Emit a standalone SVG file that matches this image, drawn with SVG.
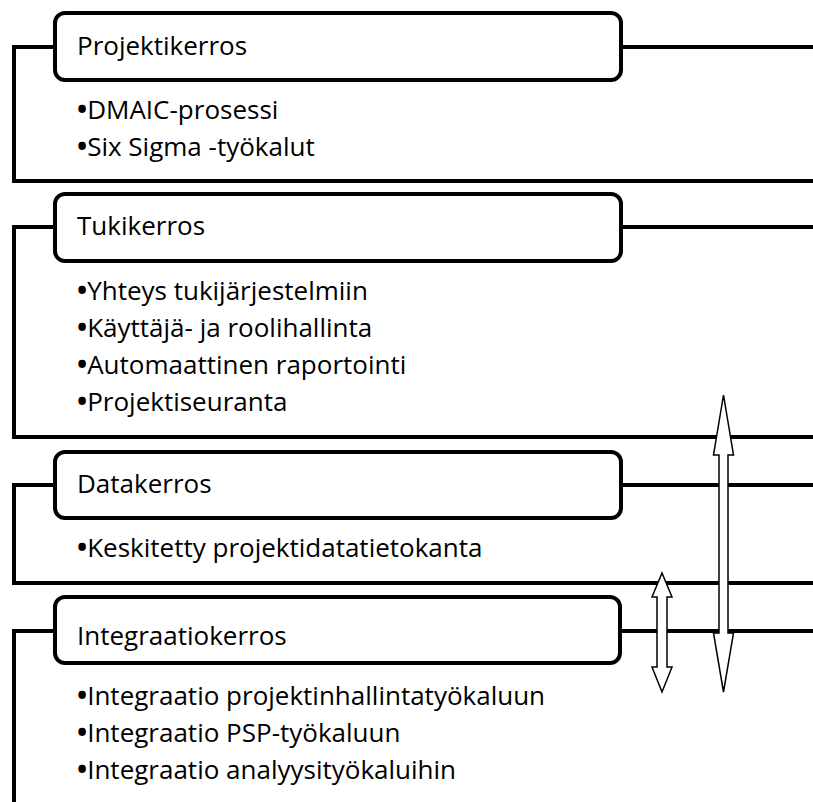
<svg xmlns="http://www.w3.org/2000/svg" width="813" height="802" viewBox="0 0 813 802">
  <style>
    .frame { fill: none; stroke: #000; stroke-width: 4; stroke-linejoin: miter; }
    .label { fill: #fff; stroke: #000; stroke-width: 4; }
    .txt { font-family: "Open Sans", "Noto Sans", "DejaVu Sans", sans-serif; font-size: 26px; fill: #000; }
    .blt { font-size: 27px; font-weight: bold; }
    .arrow { fill: #fff; stroke: #000; stroke-width: 1.5; stroke-linejoin: miter; }
  </style>

  <!-- Layer 1 -->
  <g id="projektikerros">
    <path class="frame" d="M55 47 H14 V181 H813 M621 47 H813"/>
    <rect class="label" x="55" y="13" width="566" height="67" rx="10"/>
    <text class="txt" x="77" y="55">Projektikerros</text>
    <text class="txt" x="77" y="119"><tspan class="blt">•</tspan>DMAIC-prosessi</text>
    <text class="txt" x="77" y="156"><tspan class="blt">•</tspan>Six Sigma -työkalut</text>
  </g>

  <!-- Layer 2 -->
  <g id="tukikerros">
    <path class="frame" d="M55 227 H14 V437 H813 M621 227 H813"/>
    <rect class="label" x="55" y="194" width="566" height="67" rx="10"/>
    <text class="txt" x="77" y="235">Tukikerros</text>
    <text class="txt" x="77" y="300"><tspan class="blt">•</tspan>Yhteys tukijärjestelmiin</text>
    <text class="txt" x="77" y="337"><tspan class="blt">•</tspan>Käyttäjä- ja roolihallinta</text>
    <text class="txt" x="77" y="374"><tspan class="blt">•</tspan>Automaattinen raportointi</text>
    <text class="txt" x="77" y="411"><tspan class="blt">•</tspan>Projektiseuranta</text>
  </g>

  <!-- Layer 3 -->
  <g id="datakerros">
    <path class="frame" d="M55 485 H14 V583 H813 M621 485 H813"/>
    <rect class="label" x="55" y="452" width="566" height="66" rx="10"/>
    <text class="txt" x="77" y="493">Datakerros</text>
    <text class="txt" x="77" y="557"><tspan class="blt">•</tspan>Keskitetty projektidatatietokanta</text>
  </g>

  <!-- Layer 4 -->
  <g id="integraatiokerros">
    <path class="frame" d="M55 631 H14 V802 M620 631 H813"/>
    <rect class="label" x="55" y="597" width="565" height="66" rx="10"/>
    <text class="txt" x="77" y="645">Integraatiokerros</text>
    <text class="txt" x="77" y="705"><tspan class="blt">•</tspan>Integraatio projektinhallintatyökaluun</text>
    <text class="txt" x="77" y="742"><tspan class="blt">•</tspan>Integraatio PSP-työkaluun</text>
    <text class="txt" x="77" y="779"><tspan class="blt">•</tspan>Integraatio analyysityökaluihin</text>
  </g>

  <!-- Double-headed arrows between layers -->
  <g id="connectors">
    <polygon class="arrow" points="723.5,395 733.5,455 728,455 728,633 733.5,633 723.5,692 713.5,633 719,633 719,455 713.5,455"/>
    <polygon class="arrow" points="662,573 672,597 667,597 667,667 672,667 662,692 652,667 657,667 657,597 652,597"/>
  </g>
</svg>
